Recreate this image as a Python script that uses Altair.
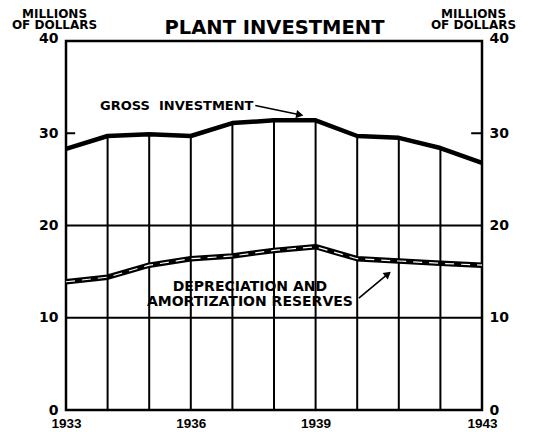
import altair as alt
import pandas as pd

years = list(range(1933, 1944))
gross = [28.3, 29.7, 29.9, 29.7, 31.1, 31.4, 31.4, 29.7, 29.5, 28.4, 26.8]
depr = [13.9, 14.4, 15.7, 16.4, 16.7, 17.3, 17.7, 16.4, 16.15, 15.9, 15.7]
grid_values = [10, 20]
inner_tick_values = [30]
y_tick_labels = [0, 10, 20, 30, 40]
x_tick_labels = [1933, 1936, 1939, 1943]

FONT = "DejaVu Sans"
NUMFONT = "Liberation Sans"
W, H = 416, 369

df = pd.DataFrame({"year": years, "gross": gross, "depr": depr})
inner = df[(df.year > 1933) & (df.year < 1943)]

xs = alt.Scale(domain=[1933, 1943], nice=False, zero=False)
ys = alt.Scale(domain=[0, 40], nice=False)

x_axis = alt.Axis(values=x_tick_labels, format="d", ticks=False, domain=False,
                  grid=False, labelFontSize=13.5, labelFontWeight="bold",
                  labelFont=NUMFONT, labelPadding=6, labelFlush=False, title=None,
                  labelColor="black")
x_enc = alt.X("year:Q", scale=xs, axis=x_axis)

# top axis carries only the chart heading
top_axis = alt.Axis(orient="top", labels=False, ticks=False, domain=False,
                    grid=False, title="PLANT INVESTMENT", titleFont=FONT,
                    titleFontSize=19.5, titleFontWeight="bold",
                    titleColor="black", titleX=W / 2, titleY=-8,
                    titleAlign="center", titleBaseline="alphabetic",
                    titleAngle=0)
x_top = alt.X("year:Q", scale=xs, axis=top_axis)
x_plain = alt.X("year:Q", scale=xs, axis=None)

top_shift = {"condition": {"test": "datum.value === 40", "value": -3}, "value": 0}

left_axis = alt.Axis(values=y_tick_labels, ticks=False, domain=False, grid=False,
                     labelFontSize=14, labelFontWeight="bold", labelFont=FONT,
                     labelPadding=8, labelFlush=False, labelColor="black",
                     labelOffset=top_shift,
                     title=["MILLIONS", "OF DOLLARS"], titleAngle=0,
                     titleAlign="center", titleBaseline="top", titleX=-12,
                     titleY=-33, titleFontSize=12, titleFont=FONT,
                     titleFontWeight="bold", titleLineHeight=11.5,
                     titleColor="black")
right_axis = alt.Axis(values=y_tick_labels, orient="right", ticks=False,
                      domain=False, grid=False, labelFontSize=14,
                      labelFontWeight="bold", labelFont=FONT, labelPadding=7,
                      labelFlush=False, labelColor="black",
                      labelOffset=top_shift,
                      title=["MILLIONS", "OF DOLLARS"], titleAngle=0,
                      titleAlign="center", titleBaseline="top", titleX=-9,
                      titleY=-33, titleFontSize=12, titleFont=FONT,
                      titleFontWeight="bold", titleLineHeight=11.5,
                      titleColor="black")

# vertical rules from 0 up to gross investment line
vrules = alt.Chart(inner).mark_rule(color="black", strokeWidth=2).encode(
    x=x_enc,
    y=alt.Y("gross:Q", scale=ys, axis=left_axis),
    y2=alt.datum(0),
)

# horizontal grid lines
grid_df = pd.DataFrame({"v": grid_values})
hgrid = alt.Chart(grid_df).mark_rule(color="black", strokeWidth=2).encode(
    x=alt.XDatum(1933, scale=xs, axis=None), x2=alt.X2Datum(1943),
    y=alt.Y("v:Q", scale=ys, axis=right_axis),
)

# short inner ticks at 30
tick_df = pd.DataFrame({"v": inner_tick_values * 2,
                        "a": [1933.0, 1942.74], "b": [1933.22, 1943.0]})
ticks = alt.Chart(tick_df).mark_rule(color="black", strokeWidth=2).encode(
    x=alt.X("a:Q", scale=xs, axis=None), x2="b:Q",
    y=alt.Y("v:Q", scale=ys, axis=None))

gross_line = alt.Chart(df).mark_line(color="black", strokeWidth=4.5,
                                     strokeJoin="round").encode(
    x=x_top, y=alt.Y("gross:Q", scale=ys, axis=None))

depr_outer = alt.Chart(df).mark_line(color="black", strokeWidth=5.5,
                                     strokeJoin="round").encode(
    x=x_plain, y=alt.Y("depr:Q", scale=ys, axis=None))
depr_inner = alt.Chart(df).mark_line(color="white", strokeWidth=1.2,
                                     strokeDash=[9, 7]).encode(
    x=x_plain, y=alt.Y("depr:Q", scale=ys, axis=None))

# annotation labels
gross_lbl = pd.DataFrame({"x": [1933.82], "y": [32.95],
                          "t": ["GROSS\u00a0\u00a0INVESTMENT"]})
depr_lbl = pd.DataFrame({"x": [1937.42, 1937.42], "y": [13.33, 11.71],
                         "t": ["DEPRECIATION AND", "AMORTIZATION RESERVES"]})
labels_left = alt.Chart(gross_lbl).mark_text(
    font=FONT, fontSize=13, fontWeight="bold", align="left",
    baseline="middle", color="black").encode(
    x=alt.X("x:Q", scale=xs, axis=None),
    y=alt.Y("y:Q", scale=ys, axis=None), text="t:N")
labels_center = alt.Chart(depr_lbl).mark_text(
    font=FONT, fontSize=14, fontWeight="bold", align="center",
    baseline="middle", color="black").encode(
    x=alt.X("x:Q", scale=xs, axis=None),
    y=alt.Y("y:Q", scale=ys, axis=None), text="t:N")

# arrows
arrow_df = pd.DataFrame({
    "x1": [1937.55, 1940.04], "y1": [33.0, 12.14],
    "x2": [1938.62, 1940.74], "y2": [32.0, 14.75],
    "ang": [102, 51],
})
arrow_shaft = alt.Chart(arrow_df).mark_rule(color="black", strokeWidth=1.6).encode(
    x=alt.X("x1:Q", scale=xs, axis=None), x2="x2:Q",
    y=alt.Y("y1:Q", scale=ys, axis=None), y2="y2:Q")
arrow_head = alt.Chart(arrow_df).mark_point(
    shape="triangle-up", filled=True, color="black", size=70, opacity=1).encode(
    x=alt.X("x2:Q", scale=xs, axis=None), y=alt.Y("y2:Q", scale=ys, axis=None),
    angle=alt.Angle("ang:Q", scale=None))

chart = alt.layer(
    vrules, hgrid, ticks, gross_line, depr_outer, depr_inner,
    labels_left, labels_center, arrow_shaft, arrow_head,
).resolve_scale(y="independent").resolve_axis(x="independent").properties(
    width=W, height=H,
    autosize=alt.AutoSizeParams(type="none"),
    padding={"left": 58, "top": 33, "right": 44, "bottom": 22},
    background="white",
).configure_view(stroke="black", strokeWidth=2.5)

chart.save("out.html", embed_options={"renderer": "svg", "actions": False})
